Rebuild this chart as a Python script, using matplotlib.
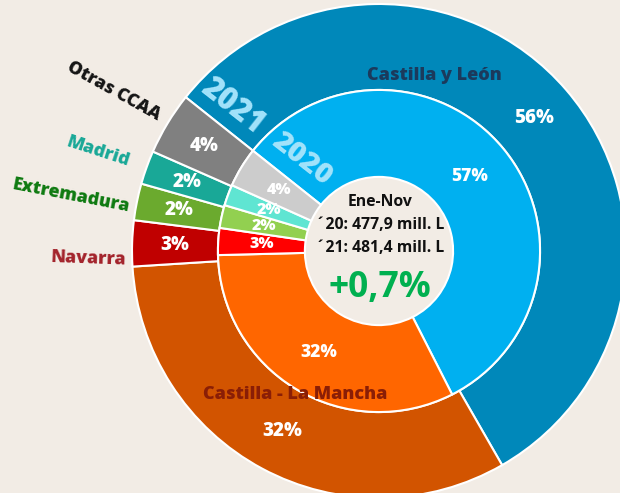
import matplotlib
matplotlib.use("Agg")
import matplotlib.pyplot as plt

plt.rcParams['font.family'] = ['Open Sans', 'DejaVu Sans']

regions = ["Castilla y León", "Castilla - La Mancha", "Navarra", "Extremadura", "Madrid", "Otras CCAA"]
share_2021 = [56.0, 32.3, 3.0, 2.4, 2.2, 4.1]
share_2020 = [56.8, 32.1, 2.7, 2.3, 2.1, 4.0]
colors_2021 = ["#0088BA", "#D25400", "#C00000", "#6BAA2E", "#19A897", "#808080"]
colors_2020 = ["#00B0F0", "#FF6600", "#FF0000", "#92D050", "#5FE5D2", "#CCCCCC"]
center_lines = ["Ene-Nov", "´20: 477,9 mill. L", "´21: 481,4 mill. L"]
change_label = "+0,7%"

W, H = 620, 493
cx, cy, R = 379, 251, 247
bg = "#F2ECE5"

fig = plt.figure(figsize=(W / 100, H / 100), dpi=100)
fig.patch.set_facecolor(bg)
ax = fig.add_axes([0, 0, 1, 1])
ax.set_facecolor(bg)

def P(px, py):
    return ((px - cx) / R, (cy - py) / R)

start = 141.5
wp = dict(edgecolor="white", linewidth=1.5)
_, _, outer_txt = ax.pie(share_2021, radius=1.0, colors=colors_2021, startangle=start, counterclock=False,
       wedgeprops=dict(width=0.348, **wp), autopct='%.0f%%', pctdistance=0.826,
       textprops=dict(color="white", fontsize=13.5, fontweight="heavy"))
_, _, inner_txt = ax.pie(share_2020, radius=0.652, colors=colors_2020, startangle=start, counterclock=False,
       wedgeprops=dict(width=0.352, **wp), autopct='%.0f%%', pctdistance=0.73,
       textprops=dict(color="white", fontsize=11.5, fontweight="heavy"))
inner_txt[0].set_fontsize(12.5)
inner_txt[1].set_fontsize(12.5)

ax.set_xlim(-cx / R, (W - cx) / R)
ax.set_ylim(-(H - cy) / R, cy / R)
ax.set_axis_off()

# region names
fs = 12.8
fw = "heavy"
ax.text(*P(434, 76), regions[0], color="#1B3A5C", fontsize=13, fontweight=fw, ha="center", va="center")
ax.text(*P(295, 395), regions[1], color="#8A1E06", fontsize=13, fontweight=fw, ha="center", va="center")
ax.text(*P(89, 259), regions[2], color="#A3232B", fontsize=fs, fontweight=fw, ha="center", va="center", rotation=-2)
ax.text(*P(71, 196), regions[3], color="#0E7A10", fontsize=fs, fontweight=fw, ha="center", va="center", rotation=-11)
ax.text(*P(98, 152), regions[4], color="#19A897", fontsize=fs, fontweight=fw, ha="center", va="center", rotation=-18)
ax.text(*P(114, 91), regions[5], color="#151515", fontsize=fs, fontweight=fw, ha="center", va="center", rotation=-29)

# ring years
ax.text(*P(232, 107), "2021", color="#A3E3FB", fontsize=22, fontweight=fw, ha="center", va="center", rotation=-38)
ax.text(*P(302, 159), "2020", color="#A3E3FB", fontsize=21, fontweight=fw, ha="center", va="center", rotation=-38)

# centre text
for (py, line) in zip([202, 225, 248], center_lines):
    ax.text(*P(380, py), line, color="#111111", fontsize=11.3, fontweight="bold", ha="center", va="center")
ax.text(*P(380, 288), change_label, color="#00B050", fontsize=25.5, fontweight="bold", ha="center", va="center")

fig.savefig("out.png", dpi=100, facecolor=bg)
